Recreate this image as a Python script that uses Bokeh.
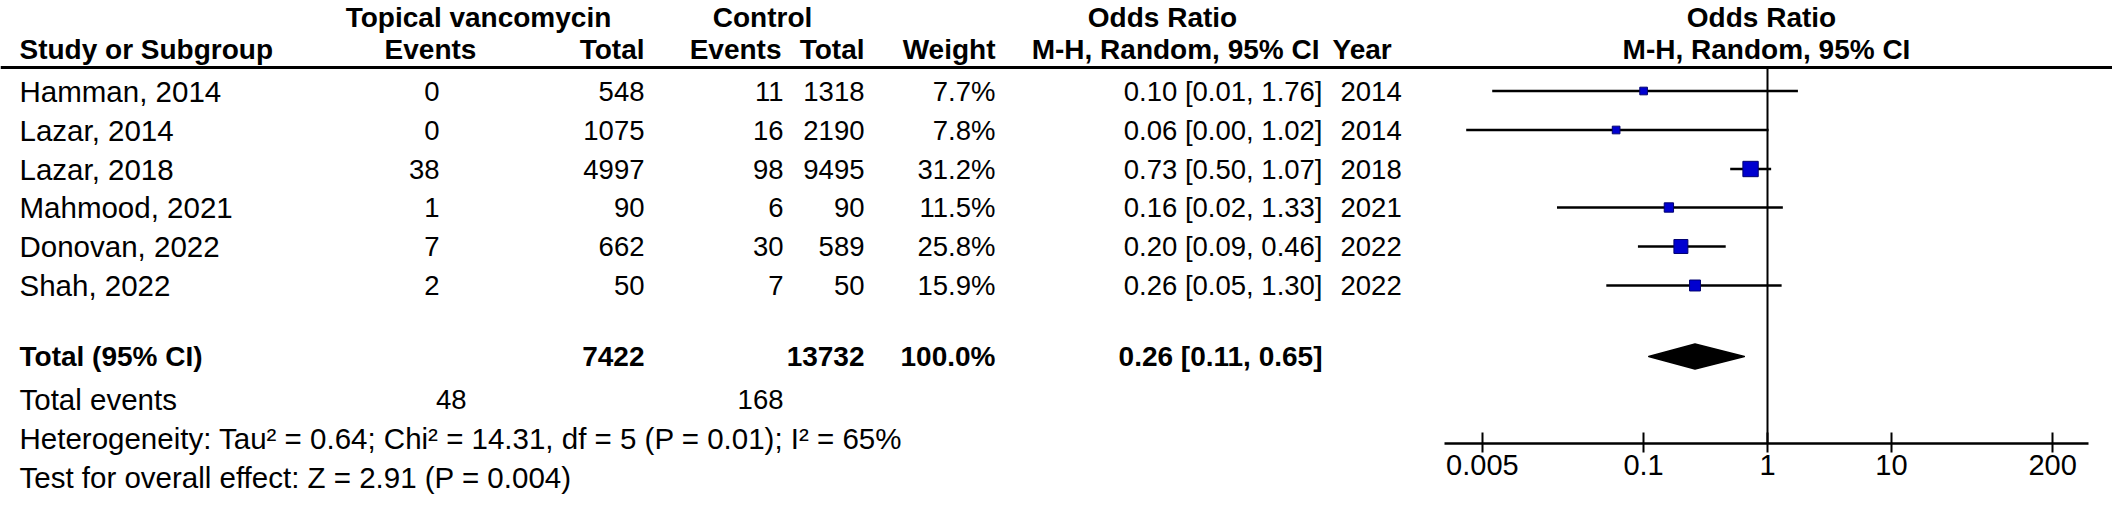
import math
from bokeh.plotting import figure
from bokeh.models import Range1d, Span, FixedTicker, CustomJSTickFormatter, LogScale, LogAxis
from bokeh.core.properties import value
from bokeh.embed import file_html
from bokeh.resources import INLINE

# ---------------- data ----------------
studies = ["Hamman, 2014", "Lazar, 2014", "Lazar, 2018", "Mahmood, 2021", "Donovan, 2022", "Shah, 2022"]
vanc_events = [0, 0, 38, 1, 7, 2]
vanc_total = [548, 1075, 4997, 90, 662, 50]
ctrl_events = [11, 16, 98, 6, 30, 7]
ctrl_total = [1318, 2190, 9495, 90, 589, 50]
weights = [7.7, 7.8, 31.2, 11.5, 25.8, 15.9]
or_est = [0.10, 0.06, 0.73, 0.16, 0.20, 0.26]
ci_low = [0.006, 0.0037, 0.50, 0.02, 0.09, 0.05]
ci_high = [1.76, 1.02, 1.07, 1.33, 0.46, 1.30]
years = [2014, 2014, 2018, 2021, 2022, 2022]

total_vanc = 7422
total_ctrl = 13732
total_weight = 100.0
events_vanc = 48
events_ctrl = 168
pooled = [0.26, 0.11, 0.65]  # estimate, low, high
heterogeneity = "Heterogeneity: Tau\u00b2 = 0.64; Chi\u00b2 = 14.31, df = 5 (P = 0.01); I\u00b2 = 65%"
overall = "Test for overall effect: Z = 2.91 (P = 0.004)"
axis_ticks = [0.005, 0.1, 1, 10, 200]

# ---------------- layout constants (reference pixel space) ----------------
FONT = "Liberation Sans"
FS = "29.5px"     # body text
FSN = "27.5px"    # numeric columns
FSB = "28px"      # bold headers
W = 2112
H = 501
X0, X1 = 8, 8 + W
Y_TOP, Y_BOT = 8, 8 + H
ROW_Y = [98.5, 137.5, 176.5, 215, 254, 293]
Y_H1, Y_H2, Y_LINE = 25, 57, 75
Y_TOTAL, Y_EVENTS, Y_HET, Y_TEST = 364, 407, 446, 485
Y_AXIS = 451


# log mapping of forest panel: ref_x = 1775 + 123.9*log10(v)
def ref_to_val(x):
    return 10 ** ((x - 1775.0) / 123.9)


def txt(p, xs, ys, texts, align, bold=False, size=None):
    if size is None:
        size = FSB if bold else FS
    p.text(x=xs, y=ys, text=texts, text_align=align, text_baseline="middle",
           text_font=value(FONT), text_font_size=size,
           text_font_style="bold" if bold else "normal", text_color="black")


p = figure(width=W, height=H, x_range=Range1d(X0, X1), y_range=Range1d(Y_BOT, Y_TOP),
           output_backend="svg", toolbar_location=None, x_axis_location=None,
           y_axis_location=None, min_border=0)
p.outline_line_color = None
p.grid.visible = False
p.background_fill_color = "white"
p.border_fill_color = "white"
p.extra_x_ranges = {"or": Range1d(ref_to_val(X0), ref_to_val(X1))}
p.extra_x_scales = {"or": LogScale()}

p.add_layout(Span(location=Y_LINE, dimension="width", line_color="black", line_width=3))

# headers
txt(p, [486, 770, 1170, 1769], [Y_H1] * 4,
    ["Topical vancomycin", "Control", "Odds Ratio", "Odds Ratio"], "center", True)
txt(p, [27], [Y_H2], ["Study or Subgroup"], "left", True)
txt(p, [438, 1774], [Y_H2] * 2, ["Events", "M-H, Random, 95% CI"], "center", True)
txt(p, [652, 789, 872, 1003, 1327], [Y_H2] * 5,
    ["Total", "Events", "Total", "Weight", "M-H, Random, 95% CI"], "right", True)
txt(p, [1340], [Y_H2], ["Year"], "left", True)

# study rows
txt(p, [27] * 6, ROW_Y, studies, "left")
txt(p, [447] * 6, ROW_Y, [str(v) for v in vanc_events], "right", size=FSN)
txt(p, [652] * 6, ROW_Y, [str(v) for v in vanc_total], "right", size=FSN)
txt(p, [791] * 6, ROW_Y, [str(v) for v in ctrl_events], "right", size=FSN)
txt(p, [872] * 6, ROW_Y, [str(v) for v in ctrl_total], "right", size=FSN)
txt(p, [1003] * 6, ROW_Y, ["%.1f%%" % w for w in weights], "right", size=FSN)
txt(p, [1330] * 6, ROW_Y,
    ["%.2f [%.2f, %.2f]" % (o, l, h) for o, l, h in zip(or_est, ci_low, ci_high)], "right",
    size=FSN)
txt(p, [1348] * 6, ROW_Y, [str(y) for y in years], "left", size=FSN)

# totals
txt(p, [27], [Y_TOTAL], ["Total (95% CI)"], "left", True)
txt(p, [652, 872, 1003, 1330], [Y_TOTAL] * 4,
    [str(total_vanc), str(total_ctrl), "%.1f%%" % total_weight,
     "%.2f [%.2f, %.2f]" % tuple(pooled)], "right", True)
txt(p, [27], [Y_EVENTS], ["Total events"], "left")
txt(p, [474, 791], [Y_EVENTS] * 2, [str(events_vanc), str(events_ctrl)], "right", size=FSN)
txt(p, [27, 27], [Y_HET, Y_TEST], [heterogeneity, overall], "left")

# ---------------- forest plot (log scale) ----------------
p.segment(x0=[1], y0=[Y_LINE], x1=[1], y1=[Y_AXIS], line_color="black", line_width=2,
          x_range_name="or")
p.segment(x0=ci_low, y0=ROW_Y, x1=ci_high, y1=ROW_Y, line_color="black", line_width=2.5,
          x_range_name="or")
p.scatter(x=or_est, y=ROW_Y, marker="square", size=[2.75 * math.sqrt(w) for w in weights],
          fill_color="#0000D0", line_color="#000070", line_width=1, x_range_name="or")

dh = 12.5
p.patch(x=[pooled[1], pooled[0], pooled[2], pooled[0]],
        y=[Y_TOTAL, Y_TOTAL - dh, Y_TOTAL, Y_TOTAL + dh],
        fill_color="black", line_color="black", line_width=1.5, line_join="round",
        x_range_name="or")

ax = LogAxis(x_range_name="or", ticker=FixedTicker(ticks=axis_ticks),
             formatter=CustomJSTickFormatter(code="return String(tick)"),
             bounds=(ref_to_val(1452), ref_to_val(2096)), fixed_location=Y_AXIS)
ax.axis_line_width = 2.5
ax.axis_line_color = "black"
ax.major_tick_line_width = 2
ax.major_tick_line_color = "black"
ax.major_tick_in = 11
ax.major_tick_out = 9
ax.minor_tick_line_color = None
ax.major_label_standoff = 2
ax.major_label_text_font = FONT
ax.major_label_text_font_size = "29px"
ax.major_label_text_color = "black"
p.add_layout(ax, "below")

open("out.html", "w").write(file_html(p, INLINE))
